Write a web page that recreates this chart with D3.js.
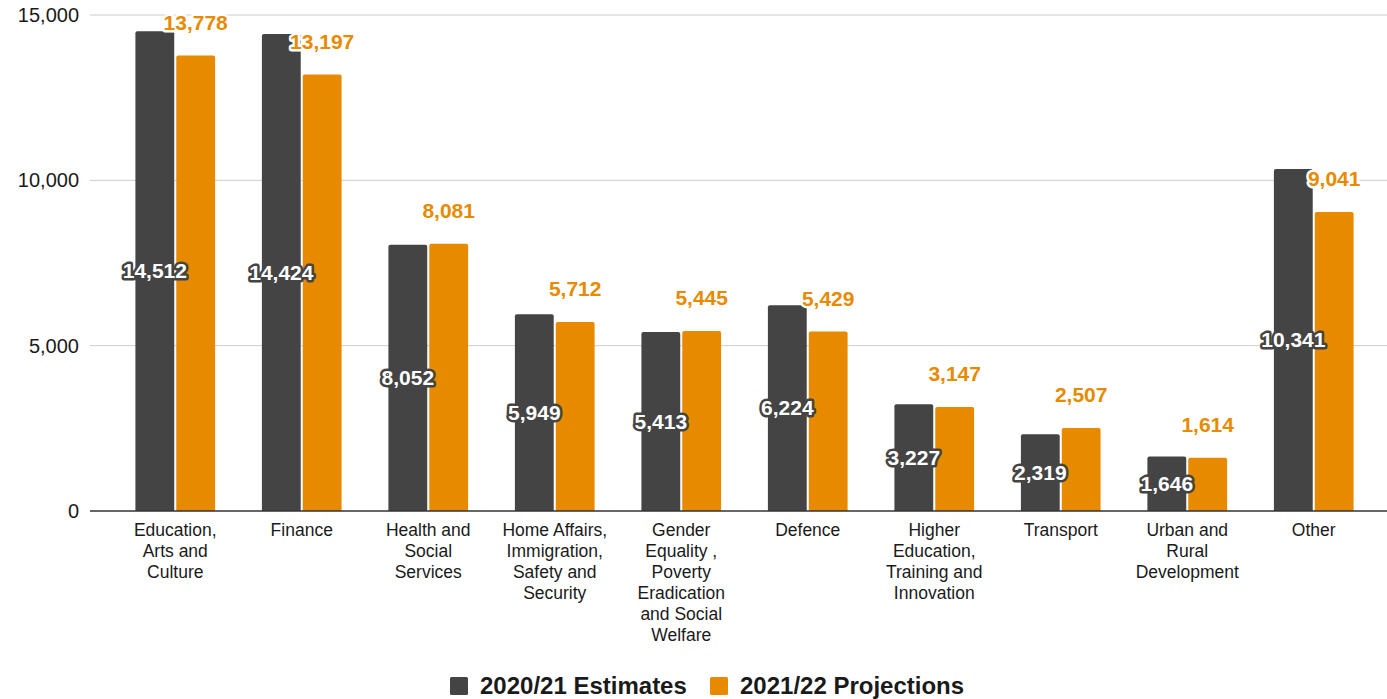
<!DOCTYPE html>
<html>
<head>
<meta charset="utf-8">
<script src="https://cdn.jsdelivr.net/npm/d3@7"></script>
<style>
  body { margin: 0; background: #fff; }
  svg { font-family: Arial, "Liberation Sans", sans-serif; }
</style>
</head>
<body>
<svg id="chart" width="1387" height="699"></svg>
<script>
// data
const categories = [
  ["Education,", "Arts and", "Culture"],
  ["Finance"],
  ["Health and", "Social", "Services"],
  ["Home Affairs,", "Immigration,", "Safety and", "Security"],
  ["Gender", "Equality ,", "Poverty", "Eradication", "and Social", "Welfare"],
  ["Defence"],
  ["Higher", "Education,", "Training and", "Innovation"],
  ["Transport"],
  ["Urban and", "Rural", "Development"],
  ["Other"]
];
const estimates = [14512, 14424, 8052, 5949, 5413, 6224, 3227, 2319, 1646, 10341];
const projections = [13778, 13197, 8081, 5712, 5445, 5429, 3147, 2507, 1614, 9041];
const seriesNames = ["2020/21 Estimates", "2021/22 Projections"];
const yTicks = [0, 5000, 10000, 15000];

const DARK = "#444444";
const ORANGE = "#e88a00";

const svg = d3.select("#chart");
const width = 1387, height = 699;

const x = d3.scaleBand()
  .domain(d3.range(categories.length))
  .range([112, 1377])
  .paddingInner(0.37)
  .paddingOuter(0.185);

const y = d3.scaleLinear()
  .domain([0, 15000])
  .range([511, 15]);

const fmt = d3.format(",");

// gridlines
svg.append("g")
  .selectAll("line")
  .data(yTicks.filter(d => d > 0))
  .join("line")
  .attr("x1", 90).attr("x2", width)
  .attr("y1", d => y(d)).attr("y2", d => y(d))
  .attr("stroke", "#cccccc")
  .attr("stroke-width", 1);

// y tick labels
svg.append("g")
  .selectAll("text")
  .data(yTicks)
  .join("text")
  .attr("x", 79)
  .attr("y", d => y(d))
  .attr("dy", "0.35em")
  .attr("text-anchor", "end")
  .attr("font-size", 20)
  .attr("fill", "#1a1a1a")
  .text(d => fmt(d));

const inner = d3.scaleBand()
  .domain([0, 1])
  .range([0, x.bandwidth()])
  .paddingInner(0.05);

// rounded-top bar path
function barPath(x0, w, top, bottom, r) {
  r = Math.min(r, w / 2, (bottom - top));
  return `M${x0},${bottom}V${top + r}Q${x0},${top} ${x0 + r},${top}` +
    `H${x0 + w - r}Q${x0 + w},${top} ${x0 + w},${top + r}V${bottom}Z`;
}

const groups = svg.append("g")
  .selectAll("g")
  .data(categories.map((c, i) => ({ i, est: estimates[i], proj: projections[i] })))
  .join("g")
  .attr("transform", d => `translate(${x(d.i)},0)`);

groups.append("path")
  .attr("d", d => barPath(inner(0), inner.bandwidth(), y(d.est), y(0), 2))
  .attr("fill", DARK);

groups.append("path")
  .attr("d", d => barPath(inner(1), inner.bandwidth(), y(d.proj), y(0), 2))
  .attr("fill", ORANGE);

// baseline
svg.append("line")
  .attr("x1", 90).attr("x2", width)
  .attr("y1", y(0)).attr("y2", y(0))
  .attr("stroke", "#333")
  .attr("stroke-width", 1.5);

// value labels
groups.append("text")
  .attr("x", inner(0) + inner.bandwidth() / 2)
  .attr("y", d => (y(d.est) + y(0)) / 2)
  .attr("dy", "0.35em")
  .attr("text-anchor", "middle")
  .attr("font-size", 21)
  .attr("font-weight", "bold")
  .attr("fill", "#fff")
  .attr("stroke", DARK)
  .attr("stroke-width", 5)
  .attr("stroke-linejoin", "round")
  .attr("paint-order", "stroke")
  .text(d => fmt(d.est));

groups.append("text")
  .attr("x", inner(1) + inner.bandwidth() / 2)
  .attr("y", d => y(d.proj) - 33)
  .attr("dy", "0.35em")
  .attr("text-anchor", "middle")
  .attr("font-size", 21)
  .attr("font-weight", "bold")
  .attr("fill", ORANGE)
  .attr("stroke", "#fff")
  .attr("stroke-width", 5)
  .attr("stroke-linejoin", "round")
  .attr("paint-order", "stroke")
  .text(d => fmt(d.proj));

// category labels
const catLabels = svg.append("g")
  .selectAll("text")
  .data(categories)
  .join("text")
  .attr("x", (d, i) => x(i) + x.bandwidth() / 2)
  .attr("y", 530)
  .attr("text-anchor", "middle")
  .attr("font-size", 17.5)
  .attr("fill", "#1a1a1a");

catLabels.selectAll("tspan")
  .data(d => d)
  .join("tspan")
  .attr("x", function () { return this.parentNode.getAttribute("x"); })
  .attr("dy", (d, j) => j === 0 ? "0.35em" : 21)
  .text(d => d);

// legend
const legend = svg.append("g").attr("transform", "translate(450,686)");
const legendX = [0, 260];
const legendColors = [DARK, ORANGE];
seriesNames.forEach((name, i) => {
  legend.append("rect")
    .attr("x", legendX[i]).attr("y", -9)
    .attr("width", 18).attr("height", 18)
    .attr("rx", 1.5)
    .attr("fill", legendColors[i]);
  legend.append("text")
    .attr("x", legendX[i] + 30)
    .attr("y", 0)
    .attr("dy", "0.35em")
    .attr("font-size", 24)
    .attr("font-weight", "bold")
    .attr("fill", "#1a1a1a")
    .text(name);
});
</script>
</body>
</html>
